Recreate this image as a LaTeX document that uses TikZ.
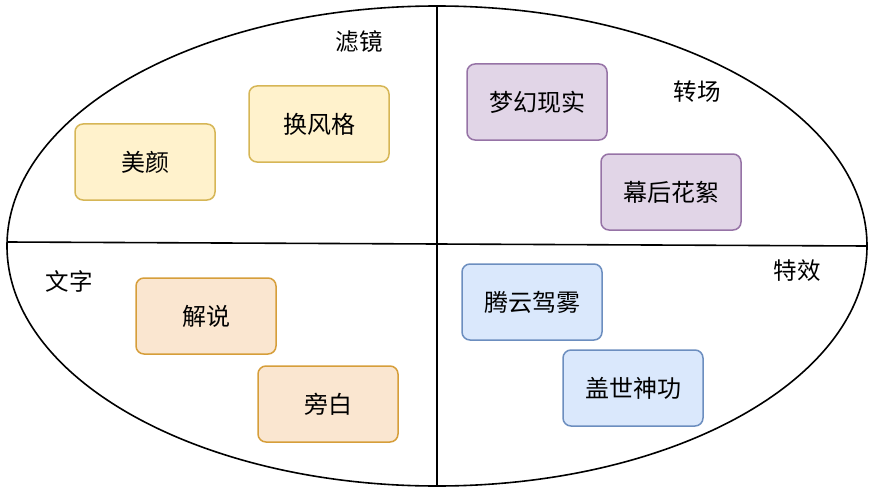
\documentclass[tikz,border=0pt]{standalone}
\usepackage{fontspec}
\setmainfont{Noto Sans CJK SC}
\definecolor{yfill}{HTML}{FFF2CC}
\definecolor{ydraw}{HTML}{D6B656}
\definecolor{pfill}{HTML}{E1D5E7}
\definecolor{pdraw}{HTML}{9673A6}
\definecolor{ofill}{HTML}{FAE6D0}
\definecolor{odraw}{HTML}{D69E3A}
\definecolor{bfill}{HTML}{DAE8FC}
\definecolor{bdraw}{HTML}{6C8EBF}
\begin{document}
\begin{tikzpicture}[x=1pt,y=-1pt,
  box/.style={draw,rounded corners=8pt,line width=1.5pt,minimum width=140pt,minimum height=76pt,font=\fontsize{24}{26}\selectfont},
  lbl/.style={font=\fontsize{23.5}{26}\selectfont}]
  \useasboundingbox (0,0) rectangle (872,492);
  \draw[line width=1.6pt] (437,246) ellipse (430pt and 240pt);
  \coordinate (top) at (437,6);
  \coordinate (bot) at (437,486);
  \coordinate (left) at (7,242);
  \coordinate (right) at (867,246);
  \draw[line width=1.6pt] (top) -- (bot);
  \draw[line width=1.6pt] (left) -- (right);
  \node[lbl] (lv) at (359,42) {滤镜};
  \node[lbl] (zc) at (697,92) {转场};
  \node[lbl] (wz) at (69,281) {文字};
  \node[lbl] (tx) at (797,271) {特效};
  \node[box,fill=yfill,draw=ydraw] (my) at (145,162) {美颜};
  \node[box,fill=yfill,draw=ydraw] (hfg) at (319,124) {换风格};
  \node[box,fill=pfill,draw=pdraw] (mhxs) at (537,102) {梦幻现实};
  \node[box,fill=pfill,draw=pdraw] (mhhx) at (671,192) {幕后花絮};
  \node[box,fill=ofill,draw=odraw] (js) at (206,316) {解说};
  \node[box,fill=ofill,draw=odraw] (pb) at (328,404) {旁白};
  \node[box,fill=bfill,draw=bdraw] (tyjw) at (532,302) {腾云驾雾};
  \node[box,fill=bfill,draw=bdraw] (gssg) at (633,388) {盖世神功};
\end{tikzpicture}
\end{document}
